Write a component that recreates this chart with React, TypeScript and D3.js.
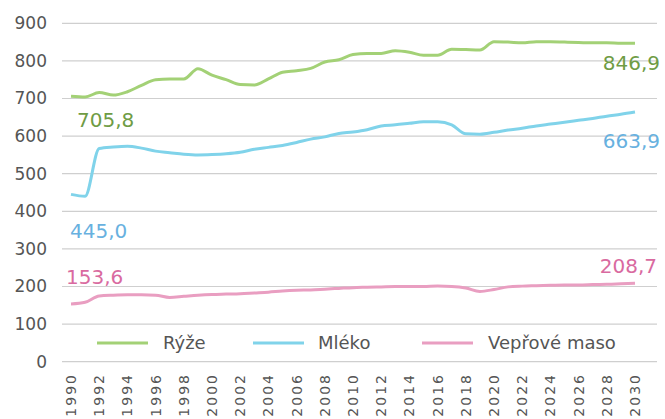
import React from 'react';
import * as d3 from 'd3';

// data
const years = d3.range(1990, 2031);
const ryze = [
  705.8, 704, 716, 709, 718, 735, 750, 752, 752, 779, 762, 750, 737, 736, 752, 770, 774, 780, 797, 803, 817,
  820, 820, 827, 823, 815, 815, 831, 830, 829, 851, 850, 848, 851, 851, 850, 849, 848, 848, 847, 846.9,
];
const mleko = [
  445.0, 440, 567, 571, 573, 568, 560, 556, 552, 550, 551, 553, 557, 565, 570, 575, 583, 592, 598, 607, 611,
  617, 627, 630, 634, 638, 638, 630, 606, 605, 610, 616, 621, 627, 632, 637, 642, 647, 653, 658, 663.9,
];
const veprove = [
  153.6, 158, 175, 177, 178, 178, 177, 171, 174, 177, 179, 180, 181, 183, 185, 188, 190, 191, 193, 195, 197,
  198, 199, 200, 200, 200, 201, 200, 196, 187, 192, 199, 201, 202, 203, 204, 204, 205, 206, 207, 208.7,
];
const seriesNames = ['Rýže', 'Mléko', 'Vepřové maso'];
const yTicks = [0, 100, 200, 300, 400, 500, 600, 700, 800, 900];
const xTicks = d3.range(1990, 2031, 2);

const lineColors = ['#a3d176', '#80d3ea', '#e99ec1'];
const labelColors = ['#6f9c45', '#68b1df', '#d96aa0'];

export default function App() {
  const width = 665;
  const height = 419;
  const x = d3.scaleLinear().domain([1990, 2030]).range([71, 635]);
  const y = d3.scaleLinear().domain([0, 900]).range([361.7, 23.3]);
  const font = "'DejaVu Sans', sans-serif";

  const series = [ryze, mleko, veprove];
  const line = d3
    .line<number>()
    .x((_, i) => x(years[i]))
    .y((d) => y(d))
    .curve(d3.curveMonotoneX);

  const fmt = (v: number) => v.toFixed(1).replace('.', ',');
  const last = years.length - 1;
  // value labels: [series index, point index, anchor, dx, dy]
  const labels: [number, number, string, number, number][] = [
    [0, 0, 'start', 6, 31],
    [0, last, 'end', 25, 27],
    [1, 0, 'start', -1, 44],
    [1, last, 'end', 25, 36],
    [2, 0, 'start', -5, -20],
    [2, last, 'end', 22, -10],
  ];
  const legend = [
    { x1: 97, tx: 163 },
    { x1: 253, tx: 318 },
    { x1: 422, tx: 488 },
  ];

  return (
    <svg width={width} height={height} style={{ position: 'absolute', left: 0, top: 0, background: '#fff' }}>
      {/* grid + y axis */}
      <g>
        {yTicks.map((t) => (
          <g key={t}>
            <line x1={62} x2={657} y1={y(t)} y2={y(t)} stroke='#cfcfcf' strokeWidth={1.2} />
            <text x={47} y={y(t)} dy='0.35em' textAnchor='end' fontFamily={font} fontSize={17} fill='#555'>
              {t}
            </text>
          </g>
        ))}
      </g>
      {/* x axis labels */}
      <g>
        {xTicks.map((t) => (
          <text
            key={t}
            transform={`translate(${x(t)},373) rotate(-90)`}
            textAnchor='end'
            dy='0.35em'
            fontFamily={font}
            fontSize={14}
            letterSpacing={2}
            fill='#555'
          >
            {t}
          </text>
        ))}
      </g>
      {/* lines */}
      {series.map((s, i) => (
        <path key={i} d={line(s) || ''} fill='none' stroke={lineColors[i]} strokeWidth={3} strokeLinejoin='round' />
      ))}
      {/* value labels */}
      {labels.map(([si, pi, anchor, dx, dy], i) => (
        <text
          key={i}
          x={x(years[pi]) + dx}
          y={y(series[si][pi]) + dy}
          textAnchor={anchor}
          fontFamily={font}
          fontSize={20}
          fill={labelColors[si]}
        >
          {fmt(series[si][pi])}
        </text>
      ))}
      {/* legend */}
      {legend.map((l, i) => (
        <g key={i}>
          <line x1={l.x1} x2={l.x1 + 51} y1={343} y2={343} stroke={lineColors[i]} strokeWidth={3} />
          <text x={l.tx} y={343} dy='0.35em' fontFamily={font} fontSize={18} fill='#555'>
            {seriesNames[i]}
          </text>
        </g>
      ))}
    </svg>
  );
}
